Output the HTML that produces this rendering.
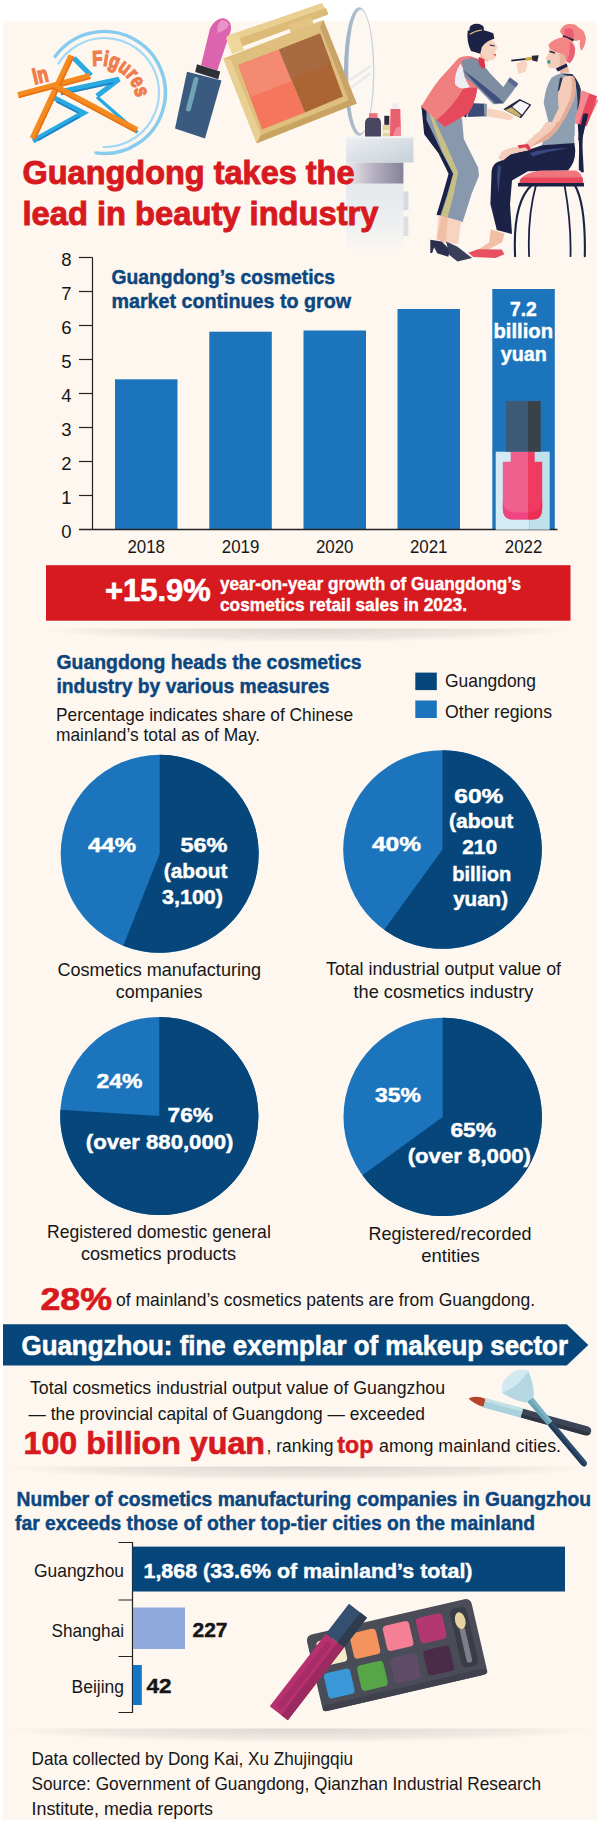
<!DOCTYPE html>
<html lang="en"><head><meta charset="utf-8"><title>Guangdong takes the lead in beauty industry</title>
<style>html,body{margin:0;padding:0;background:#fff}svg{display:block}text{font-family:'Liberation Sans', sans-serif;}</style></head>
<body>
<svg width="600" height="1828" viewBox="0 0 600 1828">
<rect x="0" y="0" width="600" height="1828" fill="#fff"/>
<rect x="3" y="21" width="594" height="1799" fill="#fef7f0"/>
<g id="logo">
<path d="M55.1 56.6 A61 61 0 1 1 96.0 152.9" stroke="#86ccef" stroke-width="3.4" fill="none" stroke-linecap="round"/>
<path d="M58.3 63.6 A54.5 54.5 0 1 1 103.5 147.0" stroke="#a3d9f4" stroke-width="2.2" fill="none" stroke-linecap="round"/>
<path d="M73.8 58 L91 75.5" stroke="#29abe2" stroke-width="5.2" fill="none"/>
<path d="M60.5 91.8 L119 79.2 L97 96" stroke="#29abe2" stroke-width="5.2" fill="none" stroke-linejoin="miter"/>
<path d="M61 94.3 L113 83.2" stroke="#1b82c9" stroke-width="1.8" fill="none"/>
<path d="M54.5 98 L83.5 112.8 L33 141" stroke="#29abe2" stroke-width="5.2" fill="none" stroke-linejoin="miter"/>
<path d="M56.5 101.8 L78.5 113" stroke="#1b82c9" stroke-width="1.8" fill="none"/>
<path d="M38 140.3 L80 116.5" stroke="#1b82c9" stroke-width="1.6" fill="none"/>
<path d="M97 97 L137.5 132.5" stroke="#29abe2" stroke-width="3.4" fill="none"/>
<path d="M18 95 L90 75.7" stroke="#f58a1f" stroke-width="5.8" fill="none"/>
<path d="M18.6 97.6 L90.6 78.3" stroke="#e56f12" stroke-width="1.6" fill="none"/>
<path d="M71.3 55.5 L32.5 138.5" stroke="#f58a1f" stroke-width="5.8" fill="none"/>
<path d="M73.6 56.6 L34.8 139.6" stroke="#e56f12" stroke-width="1.6" fill="none"/>
<path d="M53 85 L137 130" stroke="#f58a1f" stroke-width="5.8" fill="none"/>
<path d="M51.8 87.4 L135.8 132.4" stroke="#e56f12" stroke-width="1.6" fill="none"/>
<text x="0" y="0" font-size="22.5" font-weight="700" fill="#ef7d4c" stroke="#ef7d4c" stroke-width="1.5" transform="translate(34.6 84.4) rotate(-13) scale(0.76 1)">In</text>
<path id="figarc" d="M92.7 66 A37.5 37.5 0 0 1 136.2 98" fill="none"/>
<text font-size="21" font-weight="700" fill="#ef7d4c" stroke="#ef7d4c" stroke-width="1.3" textLength="60" lengthAdjust="spacingAndGlyphs"><textPath href="#figarc" startOffset="0">Figures</textPath></text>
</g>
<g id="lipstick">
<path d="M201 65.3 L217.3 70.5 L230.8 30.5 Q232.5 20 223 18 Q214.5 19 210 28.5 Z" fill="#dc63ae"/>
<path d="M221 20.5 Q227.5 19.5 229 25.5 Q225 31 217.5 33 Q216.5 25 221 20.5 Z" fill="#ea93c9"/>
<path d="M197 64.3 L220.2 71.5 L218.2 79.3 L195.2 72 Z" fill="#2f3036"/>
<path d="M187 71.8 L221.5 80.5 L205 138.5 L175 128.5 Z" fill="#3b5a80"/>
<path d="M196 79.5 L188.5 109" stroke="#6fa3b5" stroke-width="5" stroke-linecap="round" fill="none"/>
</g>
<defs><linearGradient id="mfr" x1="0" y1="0" x2="1" y2="0"><stop offset="0" stop-color="#9db0c5"/><stop offset="1" stop-color="#c9d3de"/></linearGradient><linearGradient id="vtop" x1="0" y1="0" x2="1" y2="1"><stop offset="0" stop-color="#eef0f3"/><stop offset="1" stop-color="#c7d0d8"/></linearGradient><linearGradient id="vsh" x1="0" y1="0" x2="1" y2="0"><stop offset="0" stop-color="#eeecef"/><stop offset="0.45" stop-color="#b8b4c2"/><stop offset="1" stop-color="#85819a"/></linearGradient><linearGradient id="vbody" x1="0" y1="0" x2="0" y2="1"><stop offset="0" stop-color="#e4e8ec"/><stop offset="0.6" stop-color="#eef0f1"/><stop offset="1" stop-color="#fdf7f1"/></linearGradient></defs>
<g id="vanity">
<ellipse cx="359.2" cy="71.5" rx="15.2" ry="64.3" fill="url(#mfr)"/>
<ellipse cx="360.6" cy="71.5" rx="12.4" ry="61.8" fill="#fcf7f1"/>
<path d="M350 80 L371 66 M351 88 L371 73" stroke="#e4e6ea" stroke-width="2.5" fill="none" opacity="0.8"/>
<rect x="346.2" y="183" width="57.2" height="70" fill="url(#vbody)"/>
<rect x="346.2" y="162.5" width="57.2" height="21" fill="url(#vsh)"/>
<rect x="346.2" y="136" width="67.2" height="26.5" fill="url(#vtop)"/>
<rect x="346.2" y="136" width="67.2" height="2.2" fill="#f2f4f6"/>
<rect x="403.4" y="191.5" width="5" height="18.5" fill="#d5dae0"/>
<rect x="403.4" y="216.5" width="5" height="19.5" fill="#dcdfe4"/>
<path d="M365 123 Q365 118.5 369 117.5 H377.5 Q381 118.5 381 123 V136.5 H365 Z" fill="#4a4560"/>
<rect x="369" y="113.2" width="8.5" height="4.6" fill="#f0707c"/>
<rect x="382.6" y="124.5" width="10" height="11.8" fill="#e3d3a0"/>
<rect x="382.6" y="130" width="10" height="3" fill="#f3ead0"/>
<rect x="384.3" y="115.8" width="5" height="9" fill="#2c2c3a"/>
<path d="M390.5 109 H400.3 L401 136 H390 Z" fill="#ea5f70"/>
<path d="M396 128 Q399 126 401 127 V136 H393 Q394 131 396 128 Z" fill="#f28a98"/>
<rect x="392.2" y="102.8" width="6.5" height="6.2" fill="#f0eef2"/>
</g>
<g id="compact">
<path d="M226.5 36 L322 3 L328 13.5 L232 50 Z" fill="#e9cf92"/>
<path d="M229 42 L326 8 L328.5 14.5 L232 50 Z" fill="#dcbb78"/>
<path d="M226 38 L238 34 L244 50 L232 54 Z" fill="#efd79b"/>
<path d="M288 25 L311 17 L315 28 L292 36 Z" fill="#e3c484"/>
<path d="M223.3 58.5 L323.3 20 L356.7 103.5 L256.7 143.3 Z" fill="#dfbf7e"/>
<path d="M256.7 143.3 L356.7 103.5 L354.5 98 L255 137.5 Z" fill="#c9a362"/>
<path d="M223.3 58.5 L256.7 143.3 L261 135 L231 60 Z" fill="#e9cf92"/>
<path d="M323.3 20 L356.7 103.5 L349 101 L320 27 Z" fill="#c8a468"/>
<path d="M238.3 65 L279 49.5 L305 112.5 L262 129.5 Z" fill="#f3765d"/>
<path d="M238.3 65 L279 49.5 L292 81 L251 97 Z" fill="#f58a72"/>
<path d="M279 49.5 L320 33.5 L343 96.5 L305 112.5 Z" fill="#ab6434"/>
<path d="M279 49.5 L320 33.5 L331 63 L291 79 Z" fill="#a86a40"/>
</g>
<g id="women">
<polygon points="574.7,112.0 582.9,90.7 598.1,100.6 588.3,121.5" fill="#ee6772"/>
<polygon points="581.0,95.5 582.9,90.7 598.1,100.6 596.2,104.4" fill="#f38790"/>
<polygon points="582.9,112.9 586.1,114.5 581.6,140.1 578.1,140.1" fill="#1c2246"/>
<polygon points="577.5,120.0 581.0,120.0 583.8,172.2 580.7,172.2" fill="#1c2246"/>
<path d="M531.9 184.9 C516.1 199.2 513.9 230.8 515.1 256.2" stroke="#1c2246" stroke-width="2.1" fill="none" stroke-linecap="round"/>
<path d="M536.0 184.9 C527.8 215.0 528.4 240.3 529.1 256.2" stroke="#1c2246" stroke-width="1.8" fill="none" stroke-linecap="round"/>
<path d="M564.5 184.9 C569.9 215.0 570.9 240.3 570.5 256.2" stroke="#1c2246" stroke-width="1.8" fill="none" stroke-linecap="round"/>
<path d="M574.7 184.9 C584.8 202.3 585.1 240.3 584.8 256.2" stroke="#1c2246" stroke-width="2.1" fill="none" stroke-linecap="round"/>
<path d="M582.0 90.7 L597.1 96.3 L586.9 125.9 L573.1 122.7 Z" fill="#e8475c"/>
<path d="M582.0 90.7 L589.3 93.4 L578.7 124.1 L573.1 122.7 Z" fill="#f48a90"/>
<path d="M584.8 113.0 L588.3 114.3 L582.9 135.7 L578.7 135.7 Z" fill="#1c2246"/>
<path d="M560.0 31.7 Q561.3 25.7 568.0 24.1 Q576.0 23.0 579.3 28.3 Q584.0 29.0 586.0 38.3 Q585.3 46.3 581.6 50.7 Q578.7 47.0 580.3 39.7 L576.0 41.0 L564.0 37.4 Z" fill="#f48585"/>
<path d="M564.0 29.7 Q568.0 27.0 572.7 29.7 Q574.7 35.0 572.7 38.7 L564.7 36.3 Z" fill="#ea5f74"/>
<path d="M563.3 35.0 L574.0 39.3 L573.1 41.4 L562.7 37.1 Z" fill="#2a2540"/>
<path d="M548.4 44.6 Q553.3 38.7 564.0 37.0 Q573.3 39.0 575.3 48.3 Q575.3 57.7 569.6 63.3 L566.0 61.0 L564.0 55.0 L553.3 51.3 L549.6 48.6 Z" fill="#f48585"/>
<path d="M569.6 41.7 Q575.3 45.7 574.9 51.0 Q574.4 59.0 569.6 63.3 L566.7 61.0 Q570.7 53.7 569.6 41.7 Z" fill="#ea5f74"/>
<path d="M549.1 48.3 L553.3 51.0 L558.7 53.7 L564.0 55.0 L566.0 61.0 L562.9 66.3 L556.0 68.6 L548.8 67.8 L547.2 64.3 L548.5 61.7 L545.3 57.9 L548.5 53.9 Z" fill="#f4ccb9"/>
<path d="M558.7 53.7 L564.0 55.0 L566.0 61.0 L562.9 66.3 L558.7 67.8 Q561.3 60.3 558.7 53.7 Z" fill="#eab5a0"/>
<path d="M549.6 51.3 L554.9 52.9" stroke="#2a2540" stroke-width="1.6" fill="none"/>
<path d="M547.1 60.6 L550.1 60.1 L550.4 63.3 L547.7 63.8 Z" fill="#2b9a8c"/>
<path d="M558.4 66.7 L566.1 61.7 L569.6 72.6 L560.0 73.1 Z" fill="#eab5a0"/>
<path d="M555.7 68.6 L566.7 63.5 L567.6 66.5 L557.9 71.5 Z" fill="#1c2246"/>
<path d="M551.5 77.7 Q556.0 74.3 560.7 73.4 L572.0 73.9 Q578.7 80.3 580.8 89.7 Q580.0 103.0 574.9 119.0 L574.7 135.7 L550.9 135.7 Q549.3 124.3 543.7 103.0 Q545.3 87.0 551.5 77.7 Z" fill="#8e9fb2"/>
<path d="M560.7 73.4 L572.0 73.9 Q578.7 80.3 580.8 89.7 Q580.0 103.0 577.3 111.0 Q578.7 89.7 573.3 77.7 Z" fill="#2a3350"/>
<path d="M562.4 77.9 Q568.0 74.3 573.6 76.6 Q578.1 84.3 573.6 100.3 L565.3 117.7 L556.3 129.7 L540.0 135.7 L532.8 135.7 L550.9 124.3 L558.7 108.3 Q557.3 95.0 558.9 89.7 Z" fill="#f4ccb9"/>
<path d="M573.6 76.6 Q578.1 84.3 573.6 100.3 L565.3 117.7 L556.3 129.7 L546.7 133.4 L560.0 120.3 L569.6 100.3 Q573.3 87.0 571.3 77.7 Z" fill="#e4ab95"/>
<path d="M560.0 77.4 L562.7 77.7 L559.5 89.7 L557.6 91.7 Z" fill="#2a3350"/>
<path d="M546.0 133.6 L574.0 133.6 L574.4 143.6 L541.6 145.6 Z" fill="#8e9fb2"/>
<path d="M574.4 143.0 L542.0 145.2 L528.0 150.0 L510.0 154.4 L501.6 160.4 Q492.4 162.4 491.6 171.0 L490.4 204.0 L496.8 230.0 L512.0 234.0 L510.0 204.0 L512.0 180.4 L528.0 171.2 L568.0 170.4 Q575.6 162.4 575.2 150.0 Z" fill="#1c2246"/>
<path d="M530.0 153.0 Q546.0 148.0 568.0 148.4 Q548.0 151.0 532.4 156.4 Z" fill="#3a4680"/>
<path d="M498.0 165.0 Q496.0 176.0 498.4 194.0 Q500.0 176.0 501.2 166.4 Z" fill="#3a4680"/>
<path d="M546.0 122.0 L562.0 122.0 Q559.0 130.0 548.0 139.2 L530.0 147.2 L522.8 145.2 L539.0 132.0 Z" fill="#f4ccb9"/>
<path d="M557.0 122.0 L562.0 122.0 Q559.0 130.0 548.0 139.2 L530.0 147.2 L542.0 137.6 Q554.0 130.0 557.0 122.0 Z" fill="#e4ab95"/>
<path d="M522.8 145.2 L530.0 147.2 L528.0 150.4 L512.0 153.2 L503.2 160.4 L498.0 158.4 L502.0 151.2 L510.0 148.0 Z" fill="#f4ccb9"/>
<path d="M517.6 145.2 L528.0 144.0 L531.2 149.2 L528.8 150.4 L525.2 147.2 L519.2 148.4 Z" fill="#e0394e"/>
<polygon points="490.7,229.2 504.4,233.4 502.1,242.2 486.6,250.5 477.8,250.1 489.2,242.2" fill="#f1bfa6"/>
<polygon points="468.3,252.7 477.8,249.2 501.8,249.5 504.4,254.3 495.5,258.1 473.3,257.1" fill="#e8505f"/>
<path d="M519.6 183.2 Q520.0 173.6 540.0 170.4 L576.0 170.4 Q583.2 173.6 583.2 183.2 Z" fill="#f1757c"/>
<path d="M519.6 183.2 Q519.6 179.0 522.0 177.6 L582.4 177.6 Q583.2 180.0 583.2 183.2 Z" fill="#e8475c"/>
<path d="M518.0 183.0 L584.0 183.0 L584.0 186.6 L518.0 186.6 Z" fill="#1c2246"/>
<path d="M583.2 114.0 L586.4 114.0 Q581.6 134.0 581.6 170.4 L578.8 170.4 Q578.8 132.0 583.2 114.0 Z" fill="#1c2246"/>
<polygon points="421.4,105.8 457.5,105.8 462.2,120.0 463.8,139.0 478.1,167.5 479.0,175.7 471.7,193.5 462.6,222.3 436.6,215.0 444.8,192.8 449.6,173.8 440.1,154.8 425.8,135.8" fill="#8898ad"/>
<polygon points="421.4,105.8 426.5,105.8 426.5,120.0 441.7,151.7 453.1,173.8 446.7,196.0 440.4,215.6 436.6,214.7 443.2,192.8 448.6,173.8 438.5,153.2 424.2,134.2" fill="#1c2246"/>
<polygon points="426.5,105.8 433.4,105.8 434.7,120.0 448.6,150.1 458.1,172.6 453.4,196.0 447.7,217.2 441.0,215.6 448.0,194.4 453.4,173.8 442.3,151.7" fill="#c6bf86"/>
<polygon points="438.5,215.0 461.3,221.3 458.1,244.1 445.5,242.9 436.6,239.1" fill="#f8d3c0"/>
<polygon points="441.7,215.9 448.0,217.5 445.5,242.9 436.6,239.1" fill="#f1bfa6"/>
<polygon points="430.3,239.7 441.7,241.6 449.9,249.8 448.3,256.8 437.2,253.3 434.1,247.3 432.2,253.0 430.3,253.0" fill="#2b3050"/>
<polygon points="446.1,241.6 457.5,246.7 472.1,258.1 457.5,261.5 449.3,254.9" fill="#3a3f5c"/>
<path d="M461.7 67.5 L477.5 86.7 L475.0 98.3 L465.8 117.5 L459.2 113.3 Z" fill="#1c2246"/>
<path d="M469.2 103.0 L485.8 103.8 L486.7 116.2 L467.5 117.0 Z" fill="#3c4a78"/>
<path d="M483.8 103.8 L487.0 104.2 L487.3 116.2 L484.3 116.2 Z" fill="#8596ab"/>
<path d="M486.7 108.0 L503.3 111.3 L513.7 116.3 L510.8 120.3 L486.7 116.2 Z" fill="#f8d3c0"/>
<path d="M458.7 58.0 Q465.0 55.0 470.8 56.3 L478.7 59.2 L477.5 87.5 Q475.0 103.3 468.3 113.3 L445.0 127.0 L421.3 106.7 Q435.0 83.3 443.3 75.0 Z" fill="#f0807f"/>
<path d="M477.5 87.5 Q475.0 103.3 468.3 113.3 L445.0 127.0 L436.7 120.0 Q453.3 106.7 463.7 88.0 Z" fill="#e5495c"/>
<path d="M470.0 57.5 L478.7 59.2 L478.0 75.0 L470.0 70.0 Z" fill="#e5495c"/>
<path d="M460.3 63.7 Q454.2 73.3 455.0 84.2 Q460.0 90.8 470.0 87.0 Q463.7 78.3 463.0 68.3 Z" fill="#eceef4"/>
<path d="M461.7 60.8 Q468.3 57.0 475.3 58.7 Q483.3 63.7 490.0 73.3 L503.3 87.0 L510.0 77.5 L518.0 83.3 L513.3 90.8 L503.3 103.7 L493.3 104.3 L475.0 85.3 L464.7 76.7 Z" fill="#7d8ea3"/>
<path d="M463.0 70.0 L475.0 83.3 L495.0 103.3 L503.3 102.8 L498.3 97.5 L477.5 80.8 Z" fill="#424f7c"/>
<path d="M509.7 77.5 L518.3 83.7 L515.8 87.5 L507.3 81.3 Z" fill="#5a6a92"/>
<path d="M516.3 63.7 L524.2 60.0 L527.7 63.7 L525.3 71.7 L518.3 74.0 Z" fill="#f8d3c0"/>
<path d="M511.3 60.7 L526.7 58.8" stroke="#23233a" stroke-width="1.7" fill="none"/>
<path d="M525.3 57.7 L532.0 56.8 L532.3 60.0 L525.7 60.8 Z" fill="#d2a63c"/>
<path d="M531.8 55.7 L538.7 55.3 L537.3 61.7 L532.3 60.5 Z" fill="#2a2a3c"/>
<path d="M503.3 109.3 L519.7 99.0 L531.3 104.7 L521.0 118.3 Z" fill="#23233a"/>
<path d="M512.2 106.7 L520.0 100.8 L529.3 105.0 L522.0 114.7 Z" fill="#f7f7fa"/>
<path d="M505.0 110.0 L511.7 107.2 L521.0 115.3 L519.7 117.3 Z" fill="#c9b46a"/>
<path d="M480.3 52.5 L490.0 58.3 L488.3 61.7 L480.0 59.2 Z" fill="#f1bfa6"/>
<path d="M478.7 57.0 L484.3 59.3 L485.3 67.0 L482.3 68.7 L478.7 63.7 Z" fill="#dd3448"/>
<path d="M486.7 38.0 L494.3 41.7 Q497.0 45.0 497.7 47.7 L495.3 51.0 L496.0 56.0 Q494.7 60.0 491.3 60.3 L485.7 59.3 L481.3 54.0 L482.3 46.3 Z" fill="#f8d3c0"/>
<path d="M493.3 54.2 L496.0 54.3 L495.3 56.3 Z" fill="#d8324a"/>
<path d="M489.7 45.0 L494.7 46.0" stroke="#1c2246" stroke-width="1.1" fill="none"/>
<ellipse cx="476.7" cy="28.7" rx="7.3" ry="5.0" fill="#1c2246"/>
<path d="M467.7 30.7 Q476.7 26.7 493.3 33.3 L494.3 38.7 L490.0 40.3 Q484.2 43.3 482.0 47.0 L480.3 53.7 L471.0 51.0 Q466.3 41.7 467.7 30.7 Z" fill="#1c2246"/>
<path d="M469.7 34.3 Q475.0 30.7 482.0 30.0" stroke="#d9c37a" stroke-width="1.1" fill="none"/>
</g>
<text x="22.5" y="183.9" font-size="33" font-weight="700" stroke="#d71920" stroke-width="0.95" fill="#d71920" textLength="332" lengthAdjust="spacingAndGlyphs">Guangdong takes the</text>
<text x="22.5" y="225.4" font-size="33" font-weight="700" stroke="#d71920" stroke-width="0.95" fill="#d71920" textLength="356" lengthAdjust="spacingAndGlyphs">lead in beauty industry</text>
<rect x="115" y="379.3" width="62.5" height="150.2" fill="#1c75bc"/>
<rect x="209.3" y="331.7" width="62.5" height="197.8" fill="#1c75bc"/>
<rect x="303.5" y="330.5" width="62.5" height="199.0" fill="#1c75bc"/>
<rect x="397.5" y="309" width="62.5" height="220.5" fill="#1c75bc"/>
<rect x="492.3" y="289" width="62.5" height="240.5" fill="#1c75bc"/>
<path d="M92.5 257.5 V529.5" stroke="#222" stroke-width="1.2" fill="none"/>
<path d="M79 529.5 H557.5" stroke="#222" stroke-width="1.3" fill="none"/>
<text x="71.5" y="537.7" font-size="18.5" fill="#161616" text-anchor="end">0</text>
<path d="M79 495.5 H92.5" stroke="#222" stroke-width="1.2"/>
<text x="71.5" y="503.7" font-size="18.5" fill="#161616" text-anchor="end">1</text>
<path d="M79 461.5 H92.5" stroke="#222" stroke-width="1.2"/>
<text x="71.5" y="469.7" font-size="18.5" fill="#161616" text-anchor="end">2</text>
<path d="M79 427.5 H92.5" stroke="#222" stroke-width="1.2"/>
<text x="71.5" y="435.7" font-size="18.5" fill="#161616" text-anchor="end">3</text>
<path d="M79 393.5 H92.5" stroke="#222" stroke-width="1.2"/>
<text x="71.5" y="401.7" font-size="18.5" fill="#161616" text-anchor="end">4</text>
<path d="M79 359.5 H92.5" stroke="#222" stroke-width="1.2"/>
<text x="71.5" y="367.7" font-size="18.5" fill="#161616" text-anchor="end">5</text>
<path d="M79 325.5 H92.5" stroke="#222" stroke-width="1.2"/>
<text x="71.5" y="333.7" font-size="18.5" fill="#161616" text-anchor="end">6</text>
<path d="M79 291.5 H92.5" stroke="#222" stroke-width="1.2"/>
<text x="71.5" y="299.7" font-size="18.5" fill="#161616" text-anchor="end">7</text>
<path d="M79 257.5 H92.5" stroke="#222" stroke-width="1.2"/>
<text x="71.5" y="265.7" font-size="18.5" fill="#161616" text-anchor="end">8</text>
<text x="127.5" y="553" font-size="19" fill="#161616" textLength="37.5" lengthAdjust="spacingAndGlyphs">2018</text>
<text x="221.8" y="553" font-size="19" fill="#161616" textLength="37.5" lengthAdjust="spacingAndGlyphs">2019</text>
<text x="316.0" y="553" font-size="19" fill="#161616" textLength="37.5" lengthAdjust="spacingAndGlyphs">2020</text>
<text x="410.0" y="553" font-size="19" fill="#161616" textLength="37.5" lengthAdjust="spacingAndGlyphs">2021</text>
<text x="504.79999999999995" y="553" font-size="19" fill="#161616" textLength="37.5" lengthAdjust="spacingAndGlyphs">2022</text>
<text x="111.5" y="283.7" font-size="21" font-weight="700" stroke="#0b467e" stroke-width="0.46" fill="#0b467e" textLength="223.5" lengthAdjust="spacingAndGlyphs">Guangdong’s cosmetics</text>
<text x="111.5" y="307.5" font-size="21" font-weight="700" stroke="#0b467e" stroke-width="0.46" fill="#0b467e" textLength="239.5" lengthAdjust="spacingAndGlyphs">market continues to grow</text>
<text x="510" y="316" font-size="20" font-weight="700" stroke="#fff" stroke-width="0.44" fill="#fff" textLength="26.7" lengthAdjust="spacingAndGlyphs">7.2</text>
<text x="493.5" y="338.3" font-size="20" font-weight="700" stroke="#fff" stroke-width="0.44" fill="#fff" textLength="59.5" lengthAdjust="spacingAndGlyphs">billion</text>
<text x="500.7" y="360.7" font-size="20" font-weight="700" stroke="#fff" stroke-width="0.44" fill="#fff" textLength="46" lengthAdjust="spacingAndGlyphs">yuan</text>
<g id="polish">
<rect x="495.7" y="451.7" width="34" height="78" fill="#d3ebf4"/>
<rect x="529.7" y="451.7" width="20" height="78" fill="#bfe1ed"/>
<path d="M510.7 451.7 H528 V519.5 H512 Q502.8 519.5 502.8 508 V461.7 H510.7 Z" fill="#f0608f"/>
<path d="M528 451.7 H534.7 V461.7 H542.2 V508 Q542.2 519.5 533 519.5 H528 Z" fill="#ef3b62"/>
<path d="M502.8 500 Q503 512 516 512.5 H528 V519.5 H512 Q502.8 519.5 502.8 508 Z" fill="#ee4581"/>
<path d="M528 512.5 Q541 512 542.2 500 V508 Q542.2 519.5 533 519.5 H528 Z" fill="#ec2f55"/>
<rect x="506.2" y="401" width="21.8" height="50.7" fill="#3e5a76"/>
<rect x="528" y="401" width="12.7" height="50.7" fill="#3a4249"/>
</g>
<defs><radialGradient id="rs" cx="0.5" cy="0.5" r="0.5"><stop offset="0" stop-color="#000" stop-opacity="0.13"/><stop offset="0.7" stop-color="#000" stop-opacity="0.06"/><stop offset="1" stop-color="#000" stop-opacity="0"/></radialGradient></defs>
<rect x="46" y="565.2" width="524.5" height="55.5" fill="#d71920"/>
<text x="105" y="601.3" font-size="32" font-weight="700" stroke="#fff" stroke-width="0.70" fill="#fff" textLength="105.7" lengthAdjust="spacingAndGlyphs">+15.9%</text>
<text x="220" y="590" font-size="19" font-weight="700" stroke="#fff" stroke-width="0.42" fill="#fff" textLength="301" lengthAdjust="spacingAndGlyphs">year-on-year growth of Guangdong’s</text>
<text x="220" y="611" font-size="19" font-weight="700" stroke="#fff" stroke-width="0.42" fill="#fff" textLength="247" lengthAdjust="spacingAndGlyphs">cosmetics retail sales in 2023.</text>
<clipPath id="shc1"><rect x="40" y="628.5" width="536" height="16"/></clipPath>
<ellipse cx="308.0" cy="628.5" rx="268.0" ry="14" fill="url(#rs)" clip-path="url(#shc1)"/>
<text x="56.5" y="669" font-size="21" font-weight="700" stroke="#0b467e" stroke-width="0.46" fill="#0b467e" textLength="305" lengthAdjust="spacingAndGlyphs">Guangdong heads the cosmetics</text>
<text x="56.5" y="692.5" font-size="21" font-weight="700" stroke="#0b467e" stroke-width="0.46" fill="#0b467e" textLength="273" lengthAdjust="spacingAndGlyphs">industry by various measures</text>
<text x="56" y="721" font-size="17.7" fill="#161616" textLength="297" lengthAdjust="spacingAndGlyphs">Percentage indicates share of Chinese</text>
<text x="56" y="741.3" font-size="17.7" fill="#161616" textLength="204" lengthAdjust="spacingAndGlyphs">mainland’s total as of May.</text>
<rect x="415.3" y="672.6" width="21.5" height="17.5" fill="#06467a"/>
<rect x="415.3" y="700.5" width="21.5" height="17.5" fill="#1c75bc"/>
<text x="445" y="686.6" font-size="17.7" fill="#161616" textLength="91" lengthAdjust="spacingAndGlyphs">Guangdong</text>
<text x="445" y="717.5" font-size="17.7" fill="#161616" textLength="107" lengthAdjust="spacingAndGlyphs">Other regions</text>
<circle cx="159.7" cy="853.8" r="99" fill="#1c75bc"/>
<path d="M159.7 853.8 L159.7 754.8 A99 99 0 1 1 123.26 945.85 Z" fill="#06467a"/>
<circle cx="442.5" cy="849.5" r="99.3" fill="#1c75bc"/>
<path d="M442.5 849.5 L442.5 750.2 A99.3 99.3 0 1 1 384.13 929.84 Z" fill="#06467a"/>
<circle cx="159.3" cy="1116" r="99.1" fill="#1c75bc"/>
<path d="M159.3 1116 L159.3 1016.9 A99.1 99.1 0 1 1 60.40 1109.78 Z" fill="#06467a"/>
<circle cx="442.7" cy="1116.9" r="99.2" fill="#1c75bc"/>
<path d="M442.7 1116.9 L442.7 1017.7 A99.2 99.2 0 1 1 362.45 1175.21 Z" fill="#06467a"/>
<text x="88" y="851.7" font-size="21" font-weight="700" stroke="#fff" stroke-width="0.46" fill="#fff" textLength="48" lengthAdjust="spacingAndGlyphs">44%</text>
<text x="180.4" y="851.7" font-size="21" font-weight="700" stroke="#fff" stroke-width="0.46" fill="#fff" textLength="47.1" lengthAdjust="spacingAndGlyphs">56%</text>
<text x="163.8" y="877.5" font-size="21" font-weight="700" stroke="#fff" stroke-width="0.46" fill="#fff" textLength="63.7" lengthAdjust="spacingAndGlyphs">(about</text>
<text x="162" y="903.7" font-size="21" font-weight="700" stroke="#fff" stroke-width="0.46" fill="#fff" textLength="61" lengthAdjust="spacingAndGlyphs">3,100)</text>
<text x="454.3" y="803" font-size="21" font-weight="700" stroke="#fff" stroke-width="0.46" fill="#fff" textLength="49.1" lengthAdjust="spacingAndGlyphs">60%</text>
<text x="449" y="828.1" font-size="21" font-weight="700" stroke="#fff" stroke-width="0.46" fill="#fff" textLength="64.4" lengthAdjust="spacingAndGlyphs">(about</text>
<text x="462.2" y="854.3" font-size="21" font-weight="700" stroke="#fff" stroke-width="0.46" fill="#fff" textLength="34.8" lengthAdjust="spacingAndGlyphs">210</text>
<text x="452.2" y="881.2" font-size="21" font-weight="700" stroke="#fff" stroke-width="0.46" fill="#fff" textLength="59.1" lengthAdjust="spacingAndGlyphs">billion</text>
<text x="453.2" y="906.2" font-size="21" font-weight="700" stroke="#fff" stroke-width="0.46" fill="#fff" textLength="54.8" lengthAdjust="spacingAndGlyphs">yuan)</text>
<text x="372" y="851.4" font-size="21" font-weight="700" stroke="#fff" stroke-width="0.46" fill="#fff" textLength="49" lengthAdjust="spacingAndGlyphs">40%</text>
<text x="96.6" y="1087.5" font-size="21" font-weight="700" stroke="#fff" stroke-width="0.46" fill="#fff" textLength="45.8" lengthAdjust="spacingAndGlyphs">24%</text>
<text x="167.5" y="1122" font-size="21" font-weight="700" stroke="#fff" stroke-width="0.46" fill="#fff" textLength="45.5" lengthAdjust="spacingAndGlyphs">76%</text>
<text x="85.8" y="1148.8" font-size="21" font-weight="700" stroke="#fff" stroke-width="0.46" fill="#fff" textLength="147.6" lengthAdjust="spacingAndGlyphs">(over 880,000)</text>
<text x="375.1" y="1101.9" font-size="21" font-weight="700" stroke="#fff" stroke-width="0.46" fill="#fff" textLength="45.9" lengthAdjust="spacingAndGlyphs">35%</text>
<text x="450.4" y="1137" font-size="21" font-weight="700" stroke="#fff" stroke-width="0.46" fill="#fff" textLength="45.8" lengthAdjust="spacingAndGlyphs">65%</text>
<text x="407.7" y="1163.1" font-size="21" font-weight="700" stroke="#fff" stroke-width="0.46" fill="#fff" textLength="123.3" lengthAdjust="spacingAndGlyphs">(over 8,000)</text>
<text x="57.5" y="976" font-size="17.8" fill="#161616" textLength="203.5" lengthAdjust="spacingAndGlyphs">Cosmetics manufacturing</text>
<text x="115.8" y="997.6" font-size="17.8" fill="#161616" textLength="86.7" lengthAdjust="spacingAndGlyphs">companies</text>
<text x="326" y="975.4" font-size="17.8" fill="#161616" textLength="235" lengthAdjust="spacingAndGlyphs">Total industrial output value of</text>
<text x="353.5" y="998.2" font-size="17.8" fill="#161616" textLength="179.8" lengthAdjust="spacingAndGlyphs">the cosmetics industry</text>
<text x="47" y="1238" font-size="17.8" fill="#161616" textLength="223.8" lengthAdjust="spacingAndGlyphs">Registered domestic general</text>
<text x="80.9" y="1259.8" font-size="17.8" fill="#161616" textLength="155.1" lengthAdjust="spacingAndGlyphs">cosmetics products</text>
<text x="368.6" y="1240.3" font-size="17.8" fill="#161616" textLength="162.9" lengthAdjust="spacingAndGlyphs">Registered/recorded</text>
<text x="421.3" y="1262.4" font-size="17.8" fill="#161616" textLength="58.5" lengthAdjust="spacingAndGlyphs">entities</text>
<text x="40.5" y="1309.8" font-size="32" font-weight="700" stroke="#d71920" stroke-width="0.70" fill="#d71920" textLength="71.5" lengthAdjust="spacingAndGlyphs">28%</text>
<text x="116" y="1306.2" font-size="17.7" fill="#161616" textLength="419" lengthAdjust="spacingAndGlyphs">of mainland’s cosmetics patents are from Guangdong.</text>
<path d="M3 1324.3 H566.7 L588.3 1344.9 L566.7 1365.6 H3 Z" fill="#06467a"/>
<text x="21.5" y="1355" font-size="28.5" font-weight="700" stroke="#fff" stroke-width="0.63" fill="#fff" textLength="546.5" lengthAdjust="spacingAndGlyphs">Guangzhou: fine exemplar of makeup sector</text>
<text x="30" y="1393.5" font-size="17.7" fill="#161616" textLength="415" lengthAdjust="spacingAndGlyphs">Total cosmetics industrial output value of Guangzhou</text>
<text x="28.5" y="1420" font-size="17.7" fill="#161616" textLength="396.5" lengthAdjust="spacingAndGlyphs">— the provincial capital of Guangdong — exceeded</text>
<text x="23.5" y="1454" font-size="30.5" font-weight="700" stroke="#d71920" stroke-width="0.67" fill="#d71920" textLength="241.5" lengthAdjust="spacingAndGlyphs">100 billion yuan</text>
<text x="266.5" y="1452" font-size="17.5" fill="#161616" textLength="67" lengthAdjust="spacingAndGlyphs">, ranking</text>
<text x="337.3" y="1452.5" font-size="24" font-weight="700" stroke="#d71920" stroke-width="0.53" fill="#d71920" textLength="36" lengthAdjust="spacingAndGlyphs">top</text>
<text x="379" y="1452" font-size="17.5" fill="#161616" textLength="182" lengthAdjust="spacingAndGlyphs">among mainland cities.</text>
<clipPath id="shc2"><rect x="3" y="1466.5" width="594" height="16"/></clipPath>
<ellipse cx="300.0" cy="1466.5" rx="297.0" ry="14" fill="url(#rs)" clip-path="url(#shc2)"/>
<g id="brushes">
<g transform="translate(468.5 1398.5) rotate(15.3)">
<path d="M0 0 Q6 -5.5 17 -4.2 V4.2 Q7 4 0 0 Z" fill="#b4442b"/>
<rect x="16.5" y="-4.8" width="39" height="9.6" fill="#a9d1dd"/>
<rect x="16.5" y="-4.8" width="39" height="3.2" fill="#c3e0e8"/>
<path d="M55.5 -4.6 H122 Q127 -4.4 127 0 Q127 4.4 122 4.6 H55.5 Z" fill="#3b4555"/>
<path d="M55.5 1.2 H126.8 Q126.5 4.4 122 4.6 H55.5 Z" fill="#2e3644"/>
</g>
<g transform="translate(529.5 1398.8) rotate(49.8)">
<path d="M0 -3.6 L32 -3 V3 L0 3.6 Z" fill="#7db4c5"/>
<path d="M0 0 L32 0 V3 L0 3.6 Z" fill="#6aa3b6"/>
<path d="M32 -3 H84 Q87.5 -2.8 87.5 0 Q87.5 2.8 84 3 H32 Z" fill="#2d4b6b"/>
<path d="M32 0 H87.5 Q87.5 2.8 84 3 H32 Z" fill="#223c58"/>
<path d="M1 -4.5 Q-6 -12 -22 -17 Q-31 -12 -31 0 Q-31 12 -22 17 Q-6 12 1 4.5 Z" fill="#b4d7e2"/>
<path d="M-22 -17 Q-31 -12 -31 0 Q-31 12 -22 17 Q-19 6 -19 0 Q-19 -8 -22 -17 Z" fill="#d3e9f0"/>
</g>
</g>
<text x="16.5" y="1506.3" font-size="21" font-weight="700" stroke="#0b467e" stroke-width="0.46" fill="#0b467e" textLength="574.5" lengthAdjust="spacingAndGlyphs">Number of cosmetics manufacturing companies in Guangzhou</text>
<text x="15" y="1530" font-size="21" font-weight="700" stroke="#0b467e" stroke-width="0.46" fill="#0b467e" textLength="520" lengthAdjust="spacingAndGlyphs">far exceeds those of other top-tier cities on the mainland</text>
<path d="M118.5 1542.5 H132.5 V1712.5 H118.5 M118.5 1600 H132.5 M118.5 1656.5 H132.5" stroke="#222" stroke-width="1.2" fill="none"/>
<rect x="132.5" y="1546.6" width="432.5" height="44.9" fill="#06467a"/>
<rect x="133" y="1607.5" width="52" height="41.5" fill="#8fa9dc"/>
<rect x="132.8" y="1665" width="9" height="40" fill="#1277c4"/>
<text x="124" y="1576.7" font-size="17.7" fill="#161616" text-anchor="end" textLength="90" lengthAdjust="spacingAndGlyphs">Guangzhou</text>
<text x="124" y="1636.5" font-size="17.7" fill="#161616" text-anchor="end" textLength="72.5" lengthAdjust="spacingAndGlyphs">Shanghai</text>
<text x="124" y="1692.5" font-size="17.7" fill="#161616" text-anchor="end" textLength="52.5" lengthAdjust="spacingAndGlyphs">Beijing</text>
<text x="143.5" y="1577.5" font-size="19.5" font-weight="700" stroke="#fff" stroke-width="0.43" fill="#fff" textLength="329" lengthAdjust="spacingAndGlyphs">1,868 (33.6% of mainland’s total)</text>
<text x="192.5" y="1636.5" font-size="19.5" font-weight="700" stroke="#161616" stroke-width="0.43" fill="#161616" textLength="35" lengthAdjust="spacingAndGlyphs">227</text>
<text x="146.5" y="1692.5" font-size="19.5" font-weight="700" stroke="#161616" stroke-width="0.43" fill="#161616" textLength="25" lengthAdjust="spacingAndGlyphs">42</text>
<g id="palette">
<g transform="translate(396.8 1654.8) rotate(-13)">
<rect x="-84.5" y="-39" width="169" height="78" rx="6" fill="#4a4d58"/>
<rect x="-84.5" y="33" width="169" height="6" rx="3" fill="#3f424c"/>
<rect x="-76" y="-31" width="27" height="26" rx="4" fill="#f4ecc9"/>
<rect x="-42" y="-31" width="27" height="26" rx="4" fill="#f4935d"/>
<rect x="-8" y="-31" width="27" height="26" rx="4" fill="#f57f94"/>
<rect x="26" y="-31" width="27" height="26" rx="4" fill="#b3386f"/>
<rect x="-76" y="2" width="27" height="26" rx="4" fill="#3a97d8"/>
<rect x="-42" y="2" width="27" height="26" rx="4" fill="#57a546"/>
<rect x="-8" y="2" width="27" height="26" rx="4" fill="#5f4c68"/>
<rect x="26" y="2" width="27" height="26" rx="4" fill="#4a2c49"/>
<rect x="61" y="-32" width="17" height="60" rx="5" fill="#3a3c46"/>
<rect x="66.7" y="-12" width="5.6" height="36" rx="2.5" fill="#7c7f88"/>
<ellipse cx="69.5" cy="-19" rx="5.2" ry="8.5" fill="#e6d3a0"/>
</g>
<g transform="translate(278.8 1713.2) rotate(-52.3)">
<rect x="0" y="-11.4" width="92" height="22.8" fill="#b8316f"/>
<rect x="0" y="3" width="92" height="8.4" fill="#9b2a60"/>
<rect x="4" y="-6" width="84" height="6" rx="3" fill="#a82c67"/>
<rect x="92" y="-11.4" width="37.5" height="22.8" fill="#35506f"/>
<rect x="92" y="3" width="37.5" height="8.4" fill="#2f3c4e"/>
</g>
</g>
<clipPath id="shc3"><rect x="3" y="1728.5" width="594" height="16"/></clipPath>
<ellipse cx="300.0" cy="1728.5" rx="297.0" ry="14" fill="url(#rs)" clip-path="url(#shc3)"/>
<text x="31.5" y="1765" font-size="17.7" fill="#161616" textLength="321.5" lengthAdjust="spacingAndGlyphs">Data collected by Dong Kai, Xu Zhujingqiu</text>
<text x="31.5" y="1790" font-size="17.7" fill="#161616" textLength="509.5" lengthAdjust="spacingAndGlyphs">Source: Government of Guangdong, Qianzhan Industrial Research</text>
<text x="31.5" y="1815" font-size="17.7" fill="#161616" textLength="181.5" lengthAdjust="spacingAndGlyphs">Institute, media reports</text>
</svg>
</body></html>
